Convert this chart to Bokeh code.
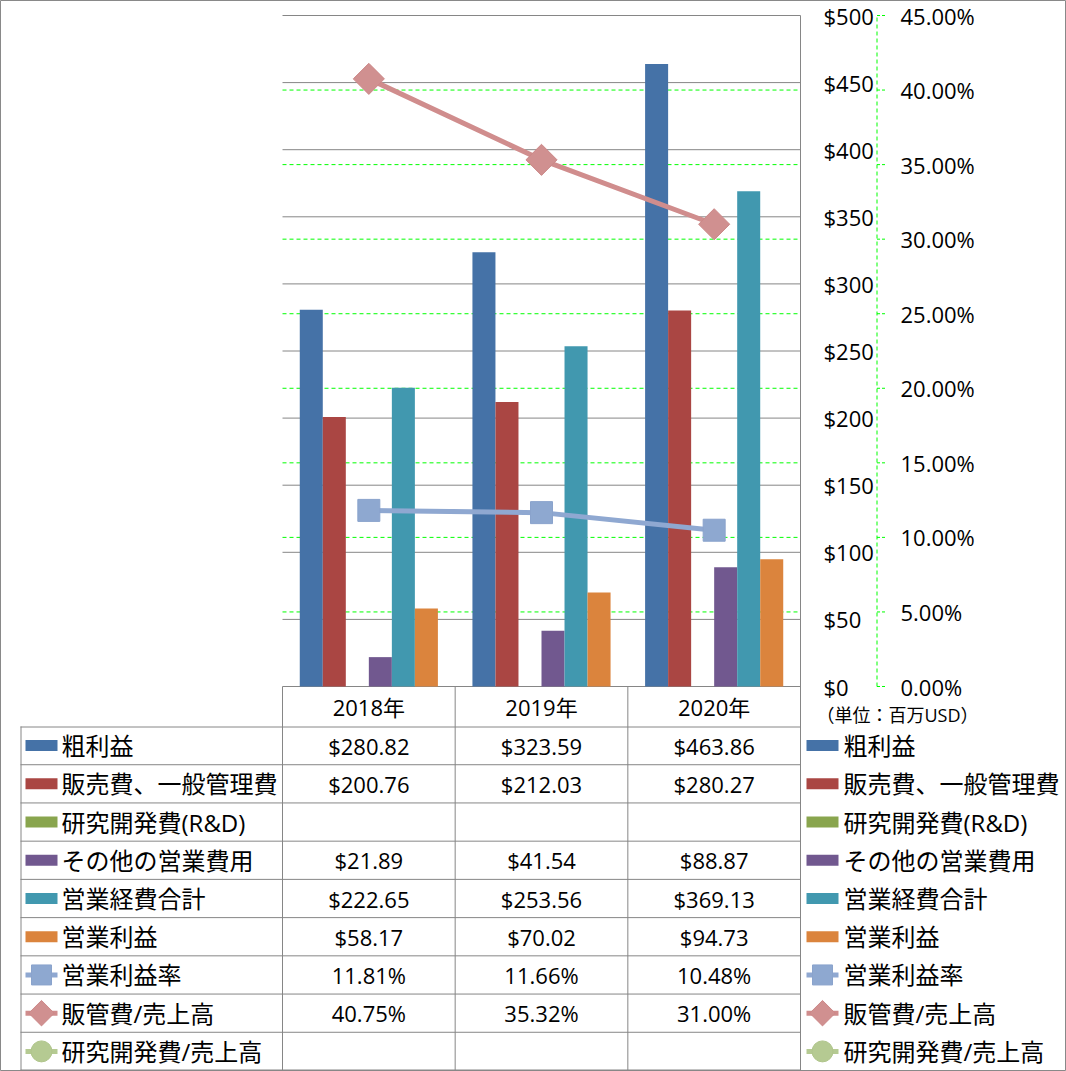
import math
from bokeh.plotting import figure
from bokeh.models import Range1d
from bokeh.core.properties import value
from bokeh.embed import file_html
from bokeh.resources import INLINE

# ---------------- data ----------------
years = ["2018年", "2019年", "2020年"]
bar_names = ["粗利益", "販売費、一般管理費", "研究開発費(R&D)", "その他の営業費用", "営業経費合計", "営業利益"]
line_names = ["営業利益率", "販管費/売上高", "研究開発費/売上高"]
gross_profit = [280.82, 323.59, 463.86]
sga_expense = [200.76, 212.03, 280.27]
rnd_expense = [None, None, None]
other_opex = [21.89, 41.54, 88.87]
total_opex = [222.65, 253.56, 369.13]
operating_income = [58.17, 70.02, 94.73]
operating_margin = [0.1181, 0.1166, 0.1048]
sga_to_sales = [0.4075, 0.3532, 0.3100]
rnd_to_sales = [None, None, None]
dollar_ticks = [0, 50, 100, 150, 200, 250, 300, 350, 400, 450, 500]
pct_ticks = [0.0, 0.05, 0.10, 0.15, 0.20, 0.25, 0.30, 0.35, 0.40, 0.45]
dollar_labels = ["$%d" % v for v in dollar_ticks]
pct_labels = ["%.2f%%" % (v * 100) for v in pct_ticks]
unit_text = "（単位：百万USD）"

# ---------------- style / geometry ----------------
bar_colors = ["#4572A7", "#AA4643", "#89A54E", "#71588F", "#4198AF", "#DB843D"]
line_colors = ["#8FA8D1", "#D08D8D", "#B5CA92"]
GRAY = "#868686"
GREEN = "#00FF00"
FONT = "Open Sans, Noto Sans CJK JP"

W, H = 1066, 1071
PLOT_L, PLOT_R, PLOT_T, PLOT_B = 282.0, 800.0, 15.0, 686.0
PX = (PLOT_R - PLOT_L) / len(years)      # pixels per category
YS = (PLOT_B - PLOT_T) / 500.0           # pixels per dollar
PS = (PLOT_B - PLOT_T) / 0.45            # pixels per unit fraction

p = figure(width=W, height=H, output_backend="svg", toolbar_location=None,
           x_range=Range1d(-0.5 - PLOT_L / PX, 2.5 + (W - PLOT_R) / PX),
           y_range=Range1d(-(H - PLOT_B) / YS, 500 + PLOT_T / YS),
           min_border=0, x_axis_location=None, y_axis_location=None)
p.extra_y_ranges = {"pct": Range1d(-(H - PLOT_B) / PS, 0.45 + PLOT_T / PS),
                    "py": Range1d(H, 0)}
p.extra_x_ranges = {"px": Range1d(0, W)}
p.outline_line_color = "#898989"
p.background_fill_color = "white"
p.border_fill_color = "white"
for g in p.grid:
    g.visible = False

def dx(pixels):
    return pixels / PX

# ---- grid lines (primary $ gridlines, then green % gridlines) ----
nd = len(dollar_ticks)
p.segment(x0=[-0.5] * nd, y0=dollar_ticks, x1=[2.5] * nd, y1=dollar_ticks,
          line_color=GRAY, line_width=1)
inner_pct = pct_ticks[1:-1]
p.segment(x0=[-0.5] * len(inner_pct), y0=inner_pct, x1=[2.5] * len(inner_pct), y1=inner_pct,
          y_range_name="pct", line_color=GREEN, line_width=1, line_dash="4 3")

# ---- bars ----
series = [gross_profit, sga_expense, rnd_expense, other_opex, total_opex, operating_income]
nser = len(series)
bw = 0.8 / nser
for j, vals in enumerate(series):
    xs = [i - 0.4 + bw * (j + 0.5) for i, v in enumerate(vals) if v is not None]
    tops = [v for v in vals if v is not None]
    if xs:
        p.vbar(x=xs, top=tops, bottom=0, width=bw, fill_color=bar_colors[j], line_color=None)

# ---- lines ----
xi = list(range(len(years)))
p.line(x=xi, y=operating_margin, y_range_name="pct", line_color=line_colors[0], line_width=5)
p.scatter(x=xi, y=operating_margin, y_range_name="pct", marker="square", size=22,
          fill_color="#8EA8D0", line_color="#8AA3CC", line_width=1)
p.line(x=xi, y=sga_to_sales, y_range_name="pct", line_color=line_colors[1], line_width=5)
p.scatter(x=xi, y=sga_to_sales, y_range_name="pct", marker="square", angle=math.pi / 4,
          size=22, fill_color="#D09090", line_color="#CC8888", line_width=1)

# ---- right-hand axes ----
p.text(x=[2.5 + dx(23)] * nd, y=dollar_ticks, text=dollar_labels, text_align="left",
       text_baseline="middle", text_font=value(FONT), text_font_size="22px", text_color="black")
ax_x = 2.5 + dx(76.5)
p.segment(x0=[ax_x], y0=[0], x1=[ax_x], y1=[0.45], y_range_name="pct",
          line_color=GREEN, line_width=1, line_dash="4 3")
npc = len(pct_ticks)
p.segment(x0=[ax_x] * npc, y0=pct_ticks, x1=[ax_x + dx(8)] * npc, y1=pct_ticks,
          y_range_name="pct", line_color=GREEN, line_width=1, line_dash="3 2")
p.text(x=[2.5 + dx(100)] * npc, y=pct_ticks, text=pct_labels, y_range_name="pct",
       text_align="left", text_baseline="middle", text_font=value(FONT),
       text_font_size="22px", text_color="black")
p.text(x=[816], y=[714], text=[unit_text], x_range_name="px", y_range_name="py",
       text_align="left", text_baseline="middle", text_font=value(FONT),
       text_font_size="18px", text_color="black")

# ---- data table ----
row_names = bar_names + line_names
row_vals = series + [operating_margin, sga_to_sales, rnd_to_sales]
nrows = len(row_names)
HDR_B, TBL_B, TBL_L = 726.0, 1070.0, 20.0
rh = (TBL_B - HDR_B) / nrows
row_y = [HDR_B + rh * (k + 0.5) for k in range(nrows)]

# vertical borders: plot right edge (full height) and column separators in the table
p.segment(x0=[2.5], y0=[PLOT_T], x1=[2.5], y1=[TBL_B], y_range_name="py",
          line_color=GRAY, line_width=1)
p.segment(x0=[-0.5, 0.5, 1.5], y0=[PLOT_B] * 3, x1=[-0.5, 0.5, 1.5], y1=[TBL_B] * 3,
          y_range_name="py", line_color=GRAY, line_width=1)
p.segment(x0=[TBL_L + 0.5], y0=[HDR_B], x1=[TBL_L + 0.5], y1=[TBL_B],
          x_range_name="px", y_range_name="py", line_color=GRAY, line_width=1)
hy = [HDR_B + rh * k for k in range(nrows + 1)]
hy[0] = HDR_B + 0.5
hy[-1] = TBL_B - 0.5
p.segment(x0=[TBL_L] * len(hy), y0=hy, x1=[PLOT_R] * len(hy), y1=hy,
          x_range_name="px", y_range_name="py", line_color=GRAY, line_width=1)

# header (years)
p.text(x=xi, y=[(PLOT_B + HDR_B) / 2] * len(years), text=years, y_range_name="py",
       text_align="center", text_baseline="middle", text_font=value(FONT),
       text_font_size="22px", text_color="black")

# values
tx, ty, tt = [], [], []
for k, vals in enumerate(row_vals):
    for i, v in enumerate(vals):
        if v is None:
            continue
        s = "$%.2f" % v if k < nser else "%.2f%%" % (v * 100)
        tx.append(i); ty.append(row_y[k]); tt.append(s)
p.text(x=tx, y=ty, text=tt, y_range_name="py", text_align="center", text_baseline="middle",
       text_font=value(FONT), text_font_size="22px", text_color="black")

# legend keys + labels (inside table on the left, and outside on the right)
for key_x, txt_x in [(41, 61), (822, 843)]:
    p.text(x=[txt_x] * nrows, y=row_y, text=row_names, x_range_name="px", y_range_name="py",
           text_align="left", text_baseline="middle", text_font=value(FONT),
           text_font_size="24px", text_color="black")
    p.rect(x=[key_x] * nser, y=row_y[:nser], width=32, height=11,
           x_range_name="px", y_range_name="py", fill_color=bar_colors, line_color=None)
    for m in range(3):
        yy = row_y[nser + m]
        p.line(x=[key_x - 16, key_x + 16], y=[yy, yy], x_range_name="px", y_range_name="py",
               line_color=line_colors[m], line_width=5)
    p.scatter(x=[key_x], y=[row_y[nser]], x_range_name="px", y_range_name="py",
              marker="square", size=20, fill_color="#8EA8D0", line_color="#8AA3CC")
    p.scatter(x=[key_x], y=[row_y[nser + 1]], x_range_name="px", y_range_name="py",
              marker="square", angle=math.pi / 4, size=18, fill_color="#D09090",
              line_color="#CC8888")
    p.scatter(x=[key_x], y=[row_y[nser + 2]], x_range_name="px", y_range_name="py",
              marker="circle", size=21, fill_color="#B5CA92", line_color="#B0C58C")

open("out.html", "w").write(file_html(p, INLINE))
